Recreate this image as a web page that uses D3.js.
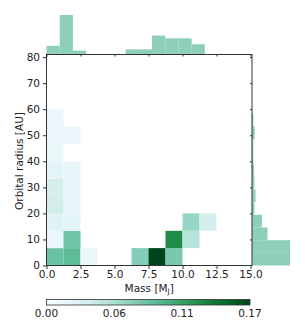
<!DOCTYPE html>
<html>
<head>
<meta charset="utf-8">
<script src="https://cdn.jsdelivr.net/npm/d3@7"></script>
<style>
  body { margin: 0; background: #fff; }
  text { font-family: "DejaVu Sans", sans-serif; fill: #222; }
</style>
</head>
<body>
<div id="chart"></div>
<script>
// DATA
// ------------------------------------------------------------------

// 2D histogram bin edges
var massEdges = [0, 1.25, 2.5, 3.75, 5, 6.25, 7.5, 8.75, 10, 11.25, 12.5, 13.75, 15];
var radiusEdges = [0, 6.67, 13.33, 20, 26.67, 33.33, 40, 46.67, 53.33, 60];

// density per cell, one row per radius bin (bottom row first)
var density = [
  [0.085, 0.090, 0.016, 0, 0, 0.073, 0.170, 0.078, 0,     0,     0, 0],
  [0.014, 0.082, 0,     0, 0, 0,     0,     0.128, 0.051, 0,     0, 0],
  [0.026, 0.022, 0,     0, 0, 0,     0,     0,     0.065, 0.034, 0, 0],
  [0.037, 0.017, 0,     0, 0, 0,     0,     0,     0,     0,     0, 0],
  [0.034, 0.017, 0,     0, 0, 0,     0,     0,     0,     0,     0, 0],
  [0.022, 0.017, 0,     0, 0, 0,     0,     0,     0,     0,     0, 0],
  [0.015, 0,     0,     0, 0, 0,     0,     0,     0,     0,     0, 0],
  [0.014, 0.014, 0,     0, 0, 0,     0,     0,     0,     0,     0, 0],
  [0.014, 0,     0,     0, 0, 0,     0,     0,     0,     0,     0, 0]
];

// marginal histogram of mass (top)
var topEdges = [0, 0.97, 1.94, 2.91, 3.88, 4.85, 5.82, 6.79, 7.76, 8.73, 9.70, 10.67, 11.64];
var topCounts = [2.2, 10, 1, 0, 0, 0, 1.3, 1.3, 4.8, 4.1, 4.1, 2.6];

// marginal histogram of orbital radius (right)
var rightEdges = [0, 4.86, 9.72, 14.58, 19.44, 24.3, 29.16, 34.02, 38.88, 43.74, 48.6, 53.46, 58.32];
var rightCounts = [14, 14, 5.7, 3.7, 0.9, 1.3, 0.9, 0.75, 0.5, 0.5, 1, 0.5];

// ticks
var xTicks = [0, 2.5, 5, 7.5, 10, 12.5, 15];
var yTicks = [0, 10, 20, 30, 40, 50, 60, 70, 80];
var cbTicks = [0, 0.0567, 0.1133, 0.17];
var vMax = 0.17;

// CANVAS
// ------------------------------------------------------------------

var width = 305,
    height = 321;

var svg = d3.select("#chart")
    .append("svg")
    .attr("width", width)
    .attr("height", height);

var histColor = "#8ecfb7";
var axisColor = "#333";

// SCALES
// ------------------------------------------------------------------

var xScale = d3.scaleLinear().domain([0, 15]).range([46.5, 250.5]),
    yScale = d3.scaleLinear().domain([0, 80.8]).range([265.5, 55]),
    topScale = d3.scaleLinear().domain([0, 10]).range([54.5, 15]),
    rightScale = d3.scaleLinear().domain([0, 14]).range([252, 290]),
    color = d3.scaleSequential(d3.interpolateBuGn).domain([0, vMax]);

var x0 = 46.5, x1 = 252, yTop = 54.5, yBot = 265.5;

// HEATMAP
// ------------------------------------------------------------------

var cells = [];
density.forEach(function(row, j) {
  row.forEach(function(v, i) {
    if (v > 0) cells.push({ i: i, j: j, v: v });
  });
});

svg.append("g").selectAll("rect")
    .data(cells)
    .join("rect")
    .attr("x", function(d) { return xScale(massEdges[d.i]); })
    .attr("width", function(d) { return xScale(massEdges[d.i + 1]) - xScale(massEdges[d.i]); })
    .attr("y", function(d) { return yScale(radiusEdges[d.j + 1]); })
    .attr("height", function(d) { return yScale(radiusEdges[d.j]) - yScale(radiusEdges[d.j + 1]); })
    .attr("fill", function(d) { return color(d.v); });

// MARGINALS
// ------------------------------------------------------------------

svg.append("g").selectAll("rect")
    .data(topCounts)
    .join("rect")
    .attr("x", function(d, i) { return xScale(topEdges[i]); })
    .attr("width", function(d, i) { return xScale(topEdges[i + 1]) - xScale(topEdges[i]); })
    .attr("y", function(d) { return topScale(d); })
    .attr("height", function(d) { return topScale(0) - topScale(d); })
    .attr("fill", histColor);

svg.append("g").selectAll("rect")
    .data(rightCounts)
    .join("rect")
    .attr("x", rightScale(0))
    .attr("width", function(d) { return rightScale(d) - rightScale(0); })
    .attr("y", function(d, i) { return yScale(rightEdges[i + 1]); })
    .attr("height", function(d, i) { return yScale(rightEdges[i]) - yScale(rightEdges[i + 1]); })
    .attr("fill", histColor);

// AXES
// ------------------------------------------------------------------

// frame of the joint plot
svg.append("rect")
    .attr("x", x0)
    .attr("y", yTop)
    .attr("width", x1 - x0)
    .attr("height", yBot - yTop)
    .attr("fill", "none")
    .attr("stroke", axisColor)
    .attr("stroke-width", 1);

var xAxis = svg.append("g")
    .attr("transform", "translate(0," + yBot + ")")
    .call(d3.axisBottom(xScale).tickValues(xTicks).tickSize(3.5).tickPadding(2).tickFormat(d3.format(".1f")));
xAxis.select(".domain").remove();
xAxis.selectAll("text").attr("font-size", 10.5);

var yAxis = svg.append("g")
    .attr("transform", "translate(" + x0 + ",0)")
    .call(d3.axisLeft(yScale).tickValues(yTicks).tickSize(3.5).tickPadding(3));
yAxis.select(".domain").remove();
yAxis.selectAll("text").attr("font-size", 10.5);

// ticks of the top marginal (no labels)
var topAxis = svg.append("g")
    .attr("transform", "translate(0," + yTop + ")")
    .call(d3.axisBottom(xScale).tickValues(xTicks).tickSize(2).tickFormat(""));
topAxis.select(".domain").remove();

// ticks of the right marginal (no labels)
var rightAxis = svg.append("g")
    .attr("transform", "translate(" + x1 + ",0)")
    .call(d3.axisLeft(yScale).tickValues(yTicks.slice(1)).tickSize(2).tickFormat(""));
rightAxis.select(".domain").remove();

svg.selectAll(".tick line").attr("stroke", axisColor);

// axis titles
var xLabel = svg.append("text")
    .attr("x", (x0 + x1) / 2)
    .attr("y", 291.5)
    .attr("text-anchor", "middle")
    .attr("font-size", 10.5)
    .text("Mass [M");
xLabel.append("tspan")
    .attr("font-size", 7.5)
    .attr("dy", 2)
    .text("J");
xLabel.append("tspan")
    .attr("dy", -2)
    .text("]");

svg.append("text")
    .attr("transform", "translate(23,161) rotate(-90)")
    .attr("text-anchor", "middle")
    .attr("font-size", 10.5)
    .text("Orbital radius [AU]");

// COLORBAR
// ------------------------------------------------------------------

var cbScale = d3.scaleLinear().domain([0, vMax]).range([46.5, 250]);

var grad = svg.append("defs").append("linearGradient")
    .attr("id", "cb-grad")
    .attr("x1", "0%").attr("x2", "100%");
d3.range(0, 1.0001, 0.1).forEach(function(t) {
  grad.append("stop")
      .attr("offset", (t * 100) + "%")
      .attr("stop-color", d3.interpolateBuGn(t));
});

svg.append("rect")
    .attr("x", cbScale(0))
    .attr("y", 299.5)
    .attr("width", cbScale(vMax) - cbScale(0))
    .attr("height", 5.5)
    .attr("fill", "url(#cb-grad)")
    .attr("stroke", axisColor)
    .attr("stroke-width", 0.8);

svg.append("g").selectAll("text")
    .data(cbTicks)
    .join("text")
    .attr("x", function(d) { return cbScale(d); })
    .attr("y", 317)
    .attr("font-size", 10.5)
    .attr("text-anchor", "middle")
    .text(function(d) { return d3.format(".2f")(d); });
</script>
</body>
</html>
